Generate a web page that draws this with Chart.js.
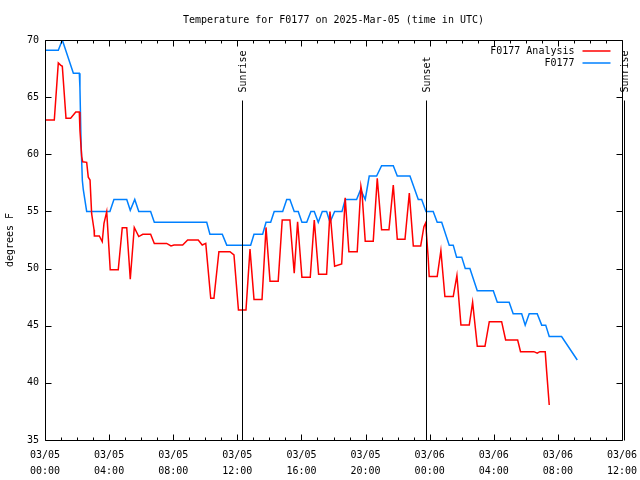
<!DOCTYPE html>
<html><head><meta charset="utf-8">
<script src="https://cdn.jsdelivr.net/npm/chart.js@4/dist/chart.umd.min.js"></script>
<style>html,body{margin:0;padding:0;background:#fff}</style>
</head><body>
<canvas id="c" width="640" height="480"></canvas>
<script>
const chartTitle = "Temperature for F0177 on 2025-Mar-05 (time in UTC)";
const yAxisTitle = "degrees F";
const xTickLabels = [["03/05","00:00"],["03/05","04:00"],["03/05","08:00"],["03/05","12:00"],["03/05","16:00"],["03/05","20:00"],["03/06","00:00"],["03/06","04:00"],["03/06","08:00"],["03/06","12:00"]];
const seriesNames = ["F0177 Analysis", "F0177"];
const seriesColors = ["rgb(255,0,0)", "rgb(0,128,255)"];

const analysisHours = [0,0.58,0.83,0.97,1.08,1.31,1.60,1.92,2.14,2.18,2.29,2.35,2.60,2.70,2.81,2.91,3.06,3.08,3.39,3.57,3.68,3.85,3.99,4.07,4.57,4.82,5.10,5.24,5.32,5.57,5.85,6.10,6.59,6.82,7.59,7.86,8.05,8.59,8.90,9.56,9.81,10.03,10.34,10.54,10.85,11.54,11.79,12.07,12.54,12.79,13.04,13.54,13.79,14.04,14.55,14.80,15.28,15.55,15.76,16.03,16.55,16.80,17.07,17.57,17.78,17.84,18.07,18.51,18.73,18.96,19.48,19.71,19.78,19.98,20.48,20.73,21.00,21.46,21.73,21.98,22.46,22.73,22.98,23.44,23.64,23.75,23.91,23.97,24.47,24.70,24.95,25.47,25.70,25.95,26.47,26.68,26.97,27.45,27.72,28.49,28.74,29.49,29.67,30.50,30.71,30.88,31.21,31.30,31.46];
const analysisTemps = [63.0,63.0,68.0,67.8,67.7,63.15,63.15,63.7,63.7,62.1,59.8,59.35,59.3,58.0,57.75,54.8,53.4,52.85,52.85,52.35,53.96,54.98,51.77,49.9,49.9,53.58,53.58,50.75,49.06,53.6,52.8,53.0,53.0,52.2,52.2,51.98,52.06,52.06,52.5,52.5,52.06,52.2,47.4,47.4,51.47,51.47,51.2,46.37,46.37,51.7,47.3,47.3,53.6,48.9,48.9,54.25,54.25,49.6,54.1,49.24,49.24,54.25,49.5,49.5,54.98,54.1,50.2,50.4,56.2,51.47,51.47,57.2,56.6,52.4,52.4,57.9,53.4,53.4,57.3,52.56,52.56,56.6,51.98,51.98,53.67,54.0,50.9,49.3,49.3,51.57,47.55,47.55,49.4,45.06,45.06,47.05,43.2,43.2,45.35,45.35,43.75,43.75,42.73,42.73,42.6,42.73,42.73,40.98,38.06];

const obsHours = [0,0.83,1.08,1.77,2.14,2.18,2.25,2.33,2.39,2.60,4.05,4.30,5.10,5.32,5.60,5.85,6.59,6.82,10.09,10.29,11.06,11.34,12.83,13.04,13.58,13.79,14.08,14.30,14.83,15.08,15.28,15.55,15.80,16.03,16.33,16.59,16.80,17.05,17.30,17.57,17.78,18.07,18.53,18.73,19.44,19.69,19.98,20.23,20.69,21.00,21.73,21.98,22.77,23.29,23.50,23.77,24.22,24.47,24.75,25.22,25.47,25.68,26.00,26.22,26.51,26.97,27.97,28.22,28.96,29.21,29.74,29.96,30.21,30.71,30.99,31.24,31.46,32.23,33.21];
const obsTemps = [69.1,69.1,70.0,67.1,67.1,65.8,61.0,57.7,56.9,55.0,55.0,56.05,56.05,55.1,56.05,55.0,55.0,54.05,54.05,53.0,53.0,52.05,52.05,53.0,53.0,54.05,54.05,55.0,55.0,56.05,56.05,55.0,55.0,54.05,54.05,55.0,55.0,54.05,55.0,55.0,54.05,55.0,55.0,56.05,56.05,56.9,56.05,58.1,58.1,59.0,59.0,58.1,58.1,56.05,56.05,55.0,55.0,54.05,54.05,52.05,52.05,51.0,51.0,50.0,50.0,48.05,48.05,47.05,47.05,46.05,46.05,45.05,46.05,46.05,45.05,45.05,44.05,44.05,42.0];

const eventLabels = ["Sunrise", "Sunset", "Sunrise"];
const eventHours = [12.26, 23.79, 36.15];

const FONT = "'DejaVu Sans Mono', 'Liberation Mono', monospace";

function toPoints(xs, ys) { return xs.map((h, i) => ({x: h, y: ys[i]})); }

const framePlugin = {
  id: 'frame',
  afterDraw(chart) {
    const ctx = chart.ctx;
    const a = chart.chartArea;
    const xs = chart.scales.x, ys = chart.scales.y;
    const L = Math.round(a.left) + 0.5, R = Math.round(a.right) + 0.5;
    const T = Math.round(a.top) + 0.5, B = Math.round(a.bottom) + 0.5;
    ctx.save();
    ctx.strokeStyle = '#000';
    ctx.lineWidth = 1;
    ctx.beginPath();
    ctx.rect(L, T, R - L, B - T);
    ys.ticks.forEach(t => {
      const p = Math.round(ys.getPixelForValue(t.value)) + 0.5;
      ctx.moveTo(L, p); ctx.lineTo(L + 6, p);
      ctx.moveTo(R, p); ctx.lineTo(R - 6, p);
    });
    for (let h = xs.min; h <= xs.max; h += 1) {
      const p = Math.round(xs.getPixelForValue(h)) + 0.5;
      const len = (h % 4 === 0) ? 6 : 3;
      ctx.moveTo(p, B); ctx.lineTo(p, B - len);
      ctx.moveTo(p, T); ctx.lineTo(p, T + len);
    }
    ctx.stroke();
    ctx.fillStyle = '#000';
    ctx.font = '10px ' + FONT;
    eventHours.forEach((h, i) => {
      const p = Math.round(xs.getPixelForValue(h)) + 0.5;
      ctx.strokeStyle = '#000';
      ctx.lineWidth = 1;
      ctx.beginPath();
      ctx.moveTo(p, T + 60); ctx.lineTo(p, B);
      ctx.stroke();
      ctx.save();
      ctx.translate(p + 1, T + 52);
      ctx.rotate(-Math.PI / 2);
      ctx.textAlign = 'left';
      ctx.textBaseline = 'middle';
      ctx.fillText(eventLabels[i], 0, 0);
      ctx.restore();
    });
    seriesNames.forEach((name, i) => {
      const yy = Math.round(T + 10 + i * 12.5);
      ctx.textAlign = 'right';
      ctx.textBaseline = 'middle';
      ctx.fillStyle = '#000';
      ctx.fillText(name, R - 48, yy);
      ctx.strokeStyle = seriesColors[i];
      ctx.lineWidth = 1.5;
      ctx.beginPath();
      ctx.moveTo(R - 40, yy);
      ctx.lineTo(R - 12, yy);
      ctx.stroke();
    });
    ctx.restore();
  }
};

new Chart(document.getElementById('c'), {
  type: 'line',
  data: {
    datasets: [
      { label: seriesNames[0], data: toPoints(analysisHours, analysisTemps), borderColor: seriesColors[0], borderWidth: 1.5, pointRadius: 0, tension: 0, fill: false },
      { label: seriesNames[1], data: toPoints(obsHours, obsTemps), borderColor: seriesColors[1], borderWidth: 1.5, pointRadius: 0, tension: 0, fill: false }
    ]
  },
  options: {
    responsive: false,
    animation: false,
    devicePixelRatio: 1,
    layout: { padding: { left: 0, right: 18, top: 0, bottom: 0 } },
    plugins: {
      legend: { display: false },
      tooltip: { enabled: false },
      title: {
        display: true, text: chartTitle, color: '#000', fullSize: false,
        font: { family: FONT, size: 10, weight: 'normal', lineHeight: 1.2 },
        padding: { top: 14, bottom: 14 }
      }
    },
    scales: {
      x: {
        type: 'linear', min: 0, max: 36,
        grid: { display: false, drawTicks: false, tickLength: 0 },
        border: { display: false },
        ticks: {
          stepSize: 4, autoSkip: false, maxRotation: 0, minRotation: 0, padding: 7,
          color: '#000', font: { family: FONT, size: 10, lineHeight: 1.6 },
          callback: (v, i) => xTickLabels[i]
        },
        afterFit(s) { s.height = 40; s.paddingLeft = 0; s.paddingRight = 0; }
      },
      y: {
        min: 35, max: 70,
        grid: { display: false, drawTicks: false, tickLength: 0 },
        border: { display: false },
        ticks: { stepSize: 5, padding: 6, color: '#000', font: { family: FONT, size: 10 } },
        title: { display: true, text: yAxisTitle, color: '#000', font: { family: FONT, size: 10 }, padding: { top: 4, bottom: 0 } },
        afterFit(s) { s.width = 45; }
      }
    }
  },
  plugins: [framePlugin]
});
</script>
</body></html>
